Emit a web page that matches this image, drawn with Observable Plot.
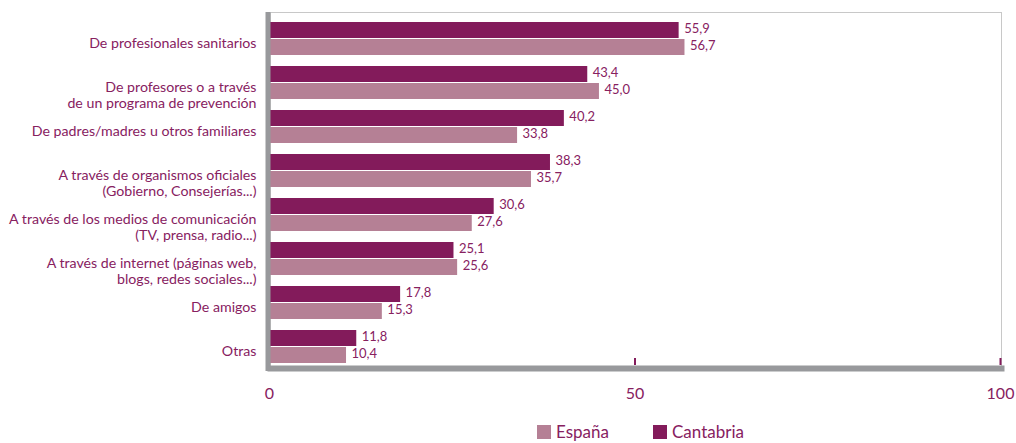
<!DOCTYPE html>
<html><head><meta charset="utf-8">
<script src="https://cdn.jsdelivr.net/npm/d3@7"></script>
<script src="https://cdn.jsdelivr.net/npm/@observablehq/plot@0.6"></script>
<style>
body{margin:0;background:#fff;font-family:Lato,sans-serif}
#legend{height:23px;display:flex;align-items:center;padding-left:537px;font-size:17px;color:#87215f}
#legend .item{display:inline-flex;align-items:center}
#legend .sw{width:14px;height:14px;margin-right:5px;display:inline-block}
</style>
</head><body><div id="chart"></div><div id="legend"></div>
<script>
const categories = [
  "De profesionales sanitarios",
  "De profesores o a través\nde un programa de prevención",
  "De padres/madres u otros familiares",
  "A través de organismos oficiales\n(Gobierno, Consejerías...)",
  "A través de los medios de comunicación\n(TV, prensa, radio...)",
  "A través de internet (páginas web,\nblogs, redes sociales...)",
  "De amigos",
  "Otras"
];
const cantabria = [55.9, 43.4, 40.2, 38.3, 30.6, 25.1, 17.8, 11.8];
const espana = [56.7, 45.0, 33.8, 35.7, 27.6, 25.6, 15.3, 10.4];
const xTicks = [0, 50, 100];
const innerTicks = [50, 100];
const seriesNames = ["España", "Cantabria"];

const colC = "#831b5b", colE = "#b58095", txt = "#87215f", gray = "#98999c", light = "#c8c8c8";
const fmt = v => v.toFixed(1).replace(".", ",");
const table = categories.map((c, i) => ({cat: c, cantabria: cantabria[i], espana: espana[i]}));
const lastCat = categories[categories.length - 1];
const tickRows = innerTicks.map(v => ({x: v, cat: lastCat}));

const chart = Plot.plot({
  width: 1016, height: 420,
  marginLeft: 270, marginRight: 15, marginTop: 12, marginBottom: 54,
  style: {fontFamily: "Lato, sans-serif", overflow: "visible"},
  x: {domain: [0, 100]},
  y: {domain: categories, padding: 0, axis: null},
  marks: [
    Plot.frame({stroke: light}),
    Plot.barX(table, {y: "cat", x: "cantabria", fill: colC, insetTop: 9, insetBottom: 19}),
    Plot.barX(table, {y: "cat", x: "espana", fill: colE, insetTop: 26, insetBottom: 2}),
    Plot.text(table, {y: "cat", x: "cantabria", text: d => fmt(d.cantabria), dx: 5, dy: -6.5, textAnchor: "start", fill: txt, fontSize: 13}),
    Plot.text(table, {y: "cat", x: "espana", text: d => fmt(d.espana), dx: 5, dy: 10.5, textAnchor: "start", fill: txt, fontSize: 13}),
    Plot.tickX(tickRows, {x: "x", y: "cat", stroke: colC, strokeWidth: 2, insetTop: 37, dx: -1}),
    Plot.frame({anchor: "bottom", stroke: gray, strokeWidth: 6, dy: 2}),
    Plot.ruleX([0], {stroke: gray, strokeWidth: 5, dx: -2.5, insetBottom: -5}),
    Plot.text(table, {y: "cat", text: "cat", frameAnchor: "left", dx: -14, textAnchor: "end", lineAnchor: "top", dy: 1, fontSize: 14.2, lineHeight: 1.13, fill: txt}),
    Plot.axisX({ticks: xTicks, tickSize: 0, tickPadding: 21, fontSize: 16, color: txt, dx: -1, tickFormat: d => String(d)})
  ]
});
document.getElementById("chart").appendChild(chart);

const legendColors = {"España": colE, "Cantabria": colC};
const legend = document.getElementById("legend");
seriesNames.forEach((name, i) => {
  const it = document.createElement("span");
  it.className = "item";
  if (i === 0) it.style.width = "116px";
  const sw = document.createElement("span");
  sw.className = "sw";
  sw.style.background = legendColors[name];
  it.appendChild(sw);
  it.appendChild(document.createTextNode(name));
  legend.appendChild(it);
});
</script>
</body></html>
